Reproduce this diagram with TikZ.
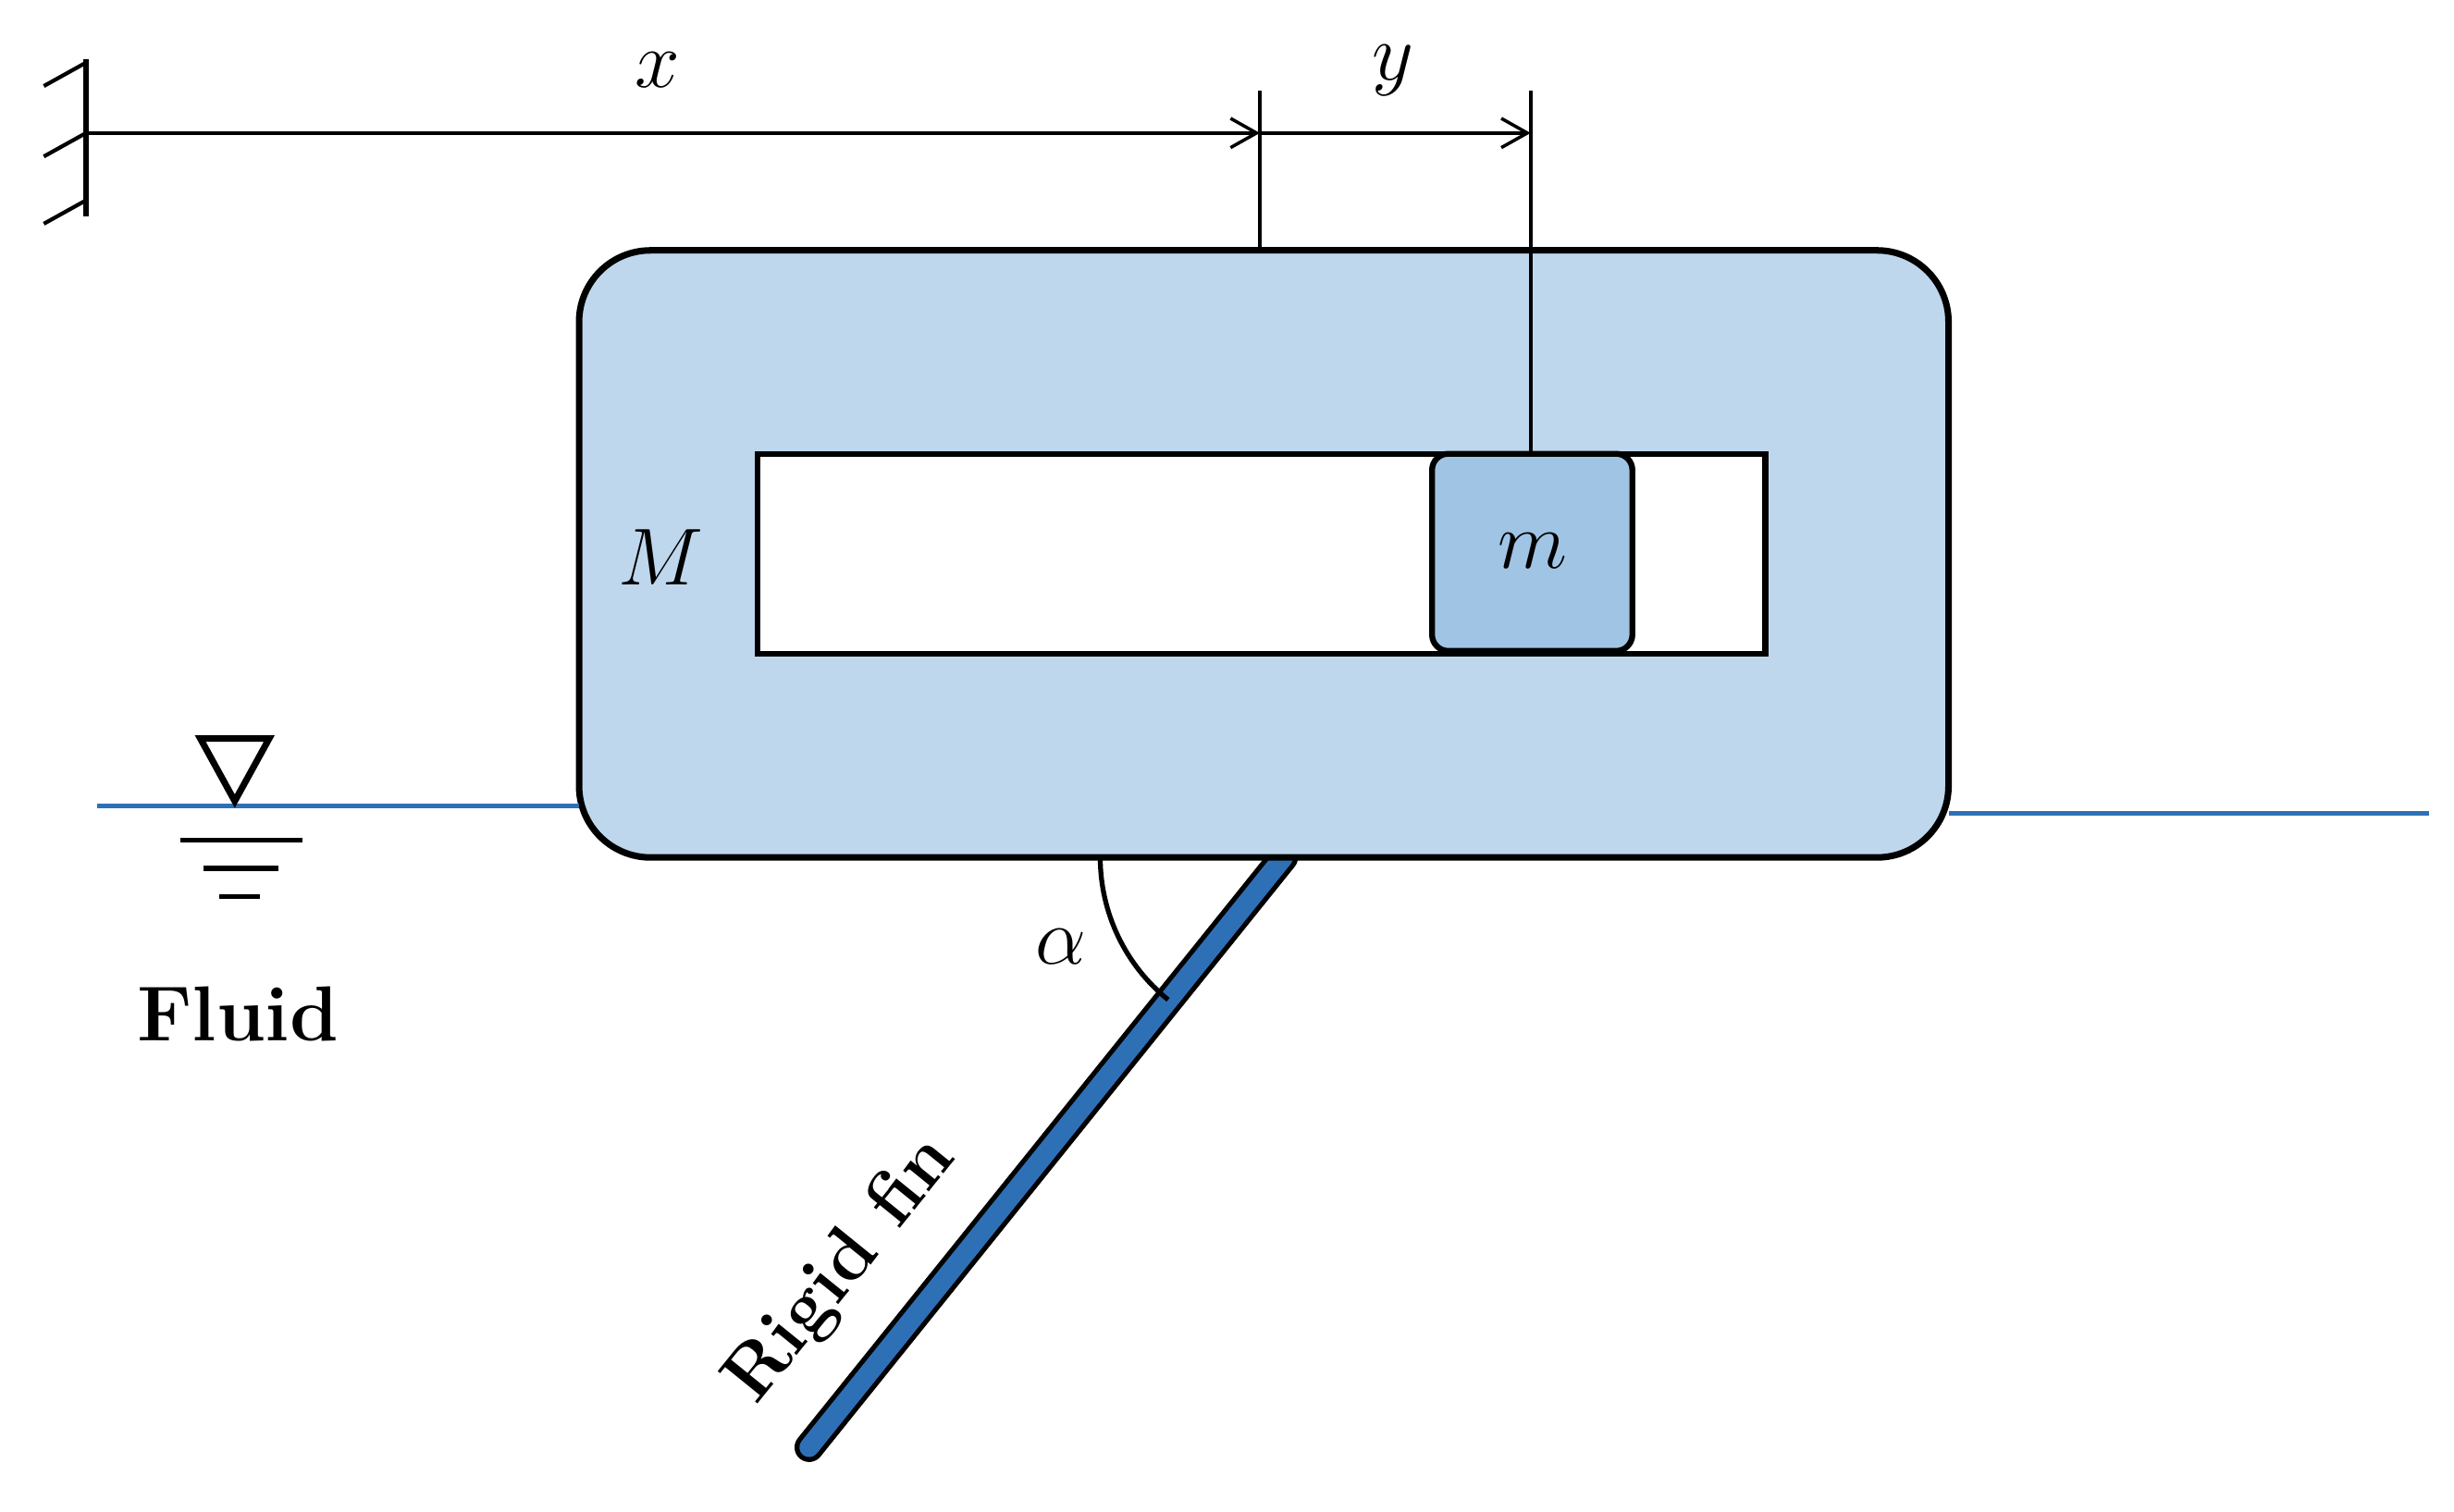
\documentclass[tikz,border=0pt]{standalone}
\usepackage{amsmath,amssymb}
\usetikzlibrary{arrows.meta}
\definecolor{hull}{RGB}{190,215,237}
\definecolor{mass}{RGB}{160,196,228}
\definecolor{water}{RGB}{46,112,182}
\tikzset{
  dim/.style={line width=1pt, -{Straight Barb[length=8pt,width=9pt]}},
  lbl/.style={font=\fontsize{26}{28}\selectfont},
}
\begin{document}
\begin{tikzpicture}[x=0.01692cm,y=-0.01692cm]
		\useasboundingbox (0,0) rectangle (1568,966);
		
		% Define nodes
		\coordinate (w1) at (55,38);
		\coordinate (w2) at (55,138);
		\coordinate (xend) at (805,85);
		\coordinate (yend) at (978,85);
		\coordinate (fintop) at (820,548);
		\coordinate (finbot) at (517,925);
		
		% Wall
		\draw[line width=1.5pt] (w1) -- (w2);
		\foreach \h in {40,85,128} \draw[line width=1.2pt] (55,\h) -- ++(-27,15);
		
		% Fin
		\draw[line width=9pt, line cap=round] (fintop) -- (finbot);
		\draw[water, line width=6pt, line cap=round] (fintop) -- (finbot);
		
		% Hull and sliding mass
		\draw[line width=2pt, fill=hull, rounded corners=22pt] (370,160) rectangle (1245,548);
		\draw[line width=1.8pt, fill=white] (484,290) rectangle (1128,418);
		\draw[line width=1.8pt, fill=mass, rounded corners=5pt] (915,290) rectangle (1043,416);
		\node[lbl] (m) at (979,352) {$m$};
		\node[lbl] (M) at (422,356) {$M$};
		
		% Dimensions
		\draw[line width=1pt] (805,58) -- (805,160);
		\draw[line width=1pt] (978,58) -- (978,290);
		\draw[dim] (55,85) -- (xend);
		\draw[dim] (xend) -- (yend);
		\node[lbl] (xl) at (420,45) {$x$};
		\node[lbl] (yl) at (890,45) {$y$};
		
		% Fluid
		\draw[water, line width=1.5pt] (62,515) -- (370,515);
		\draw[water, line width=1.5pt] (1245,520) -- (1552,520);
		\draw[line width=2pt] (128,472) -- (172,472) -- (150,512) -- cycle;
		\draw[line width=1.5pt] (115,537) -- (193,537);
		\draw[line width=1.5pt] (130,555) -- (178,555);
		\draw[line width=1.5pt] (140,573) -- (166,573);
		\node[font=\bfseries\fontsize{24}{26}\selectfont] (fl) at (152,648) {Fluid};
		
		% Angle and fin label
		\draw[line width=1.5pt] (703,548) arc[start angle=180, end angle=129, radius=117];
		\node[lbl] (al) at (678,605) {$\alpha$};
		\node[font=\bfseries\fontsize{23}{25}\selectfont, rotate=51] (rf) at (538,812) {Rigid fin};
		
\end{tikzpicture}
\end{document}
